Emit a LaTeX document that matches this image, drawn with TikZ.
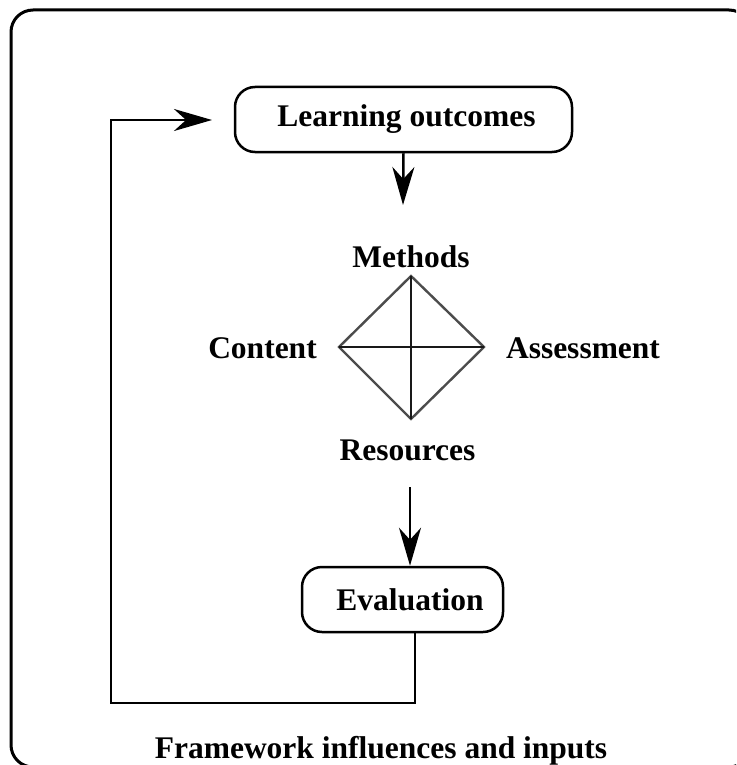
\documentclass[tikz,border=0pt]{standalone}
\usepackage{fontspec}
\setmainfont{Liberation Serif}
\usetikzlibrary{arrows.meta}
\tikzset{
  lbl/.style={font=\fontsize{31.5}{36}\selectfont\bfseries, inner sep=0pt, anchor=base},
  roundbox/.style={draw, line width=2.5pt, rounded corners=20pt, inner sep=0pt,
    font=\fontsize{31.5}{36}\selectfont\bfseries},
  conn/.style={line width=2.5pt, -{Stealth[length=38pt,width=22pt,inset=12pt]}},
  dside/.style={line width=2.4pt, draw=black!70},
  dcross/.style={line width=2.5pt, draw=black!90},
}
\begin{document}
\begin{tikzpicture}[x=1pt,y=-1pt]
\useasboundingbox (0,0) rectangle (736,765);
\begin{scope}
  \clip (0,0) rectangle (736,765);
  \draw[line width=3pt, rounded corners=22pt] (11,10) rectangle (751,767);
\end{scope}

% boxes
\node[roundbox, minimum width=337pt, minimum height=65pt] (lo) at (403.5,119.5) {\hspace*{6pt}Learning outcomes};
\node[roundbox, minimum width=201pt, minimum height=65pt] (ev) at (402.5,599.5) {\hspace*{15pt}Evaluation};

% diamond
\coordinate (dT) at (411,276);
\coordinate (dB) at (411,419);
\coordinate (dL) at (339,347);
\coordinate (dR) at (484,347);
\draw[dside] (dT) -- (dR) -- (dB) -- (dL) -- cycle;
\draw[dcross] (dL) -- (dR);
\draw[dcross] (dT) -- (dB);

% labels
\node[lbl] (meth) at (411,267) {Methods};
\node[lbl] (cont) at (262.5,358) {Content};
\node[lbl] (asse) at (583,358) {Assessment};
\node[lbl] (reso) at (407.5,460) {Resources};
\node[lbl] (fram) at (381,758) {Framework influences and inputs};

% connectors
\coordinate (a1) at (403,205);
\draw[conn] (lo.south) -- (a1);
\coordinate (r2) at (410,487);
\draw[conn] (r2) -- (r2 |- ev.north);
\coordinate (lb) at (111,703);
\coordinate (lt) at (212,120);
\draw[conn] ([xshift=12.5pt]ev.south) |- (lb) |- (lt);
\end{tikzpicture}
\end{document}
